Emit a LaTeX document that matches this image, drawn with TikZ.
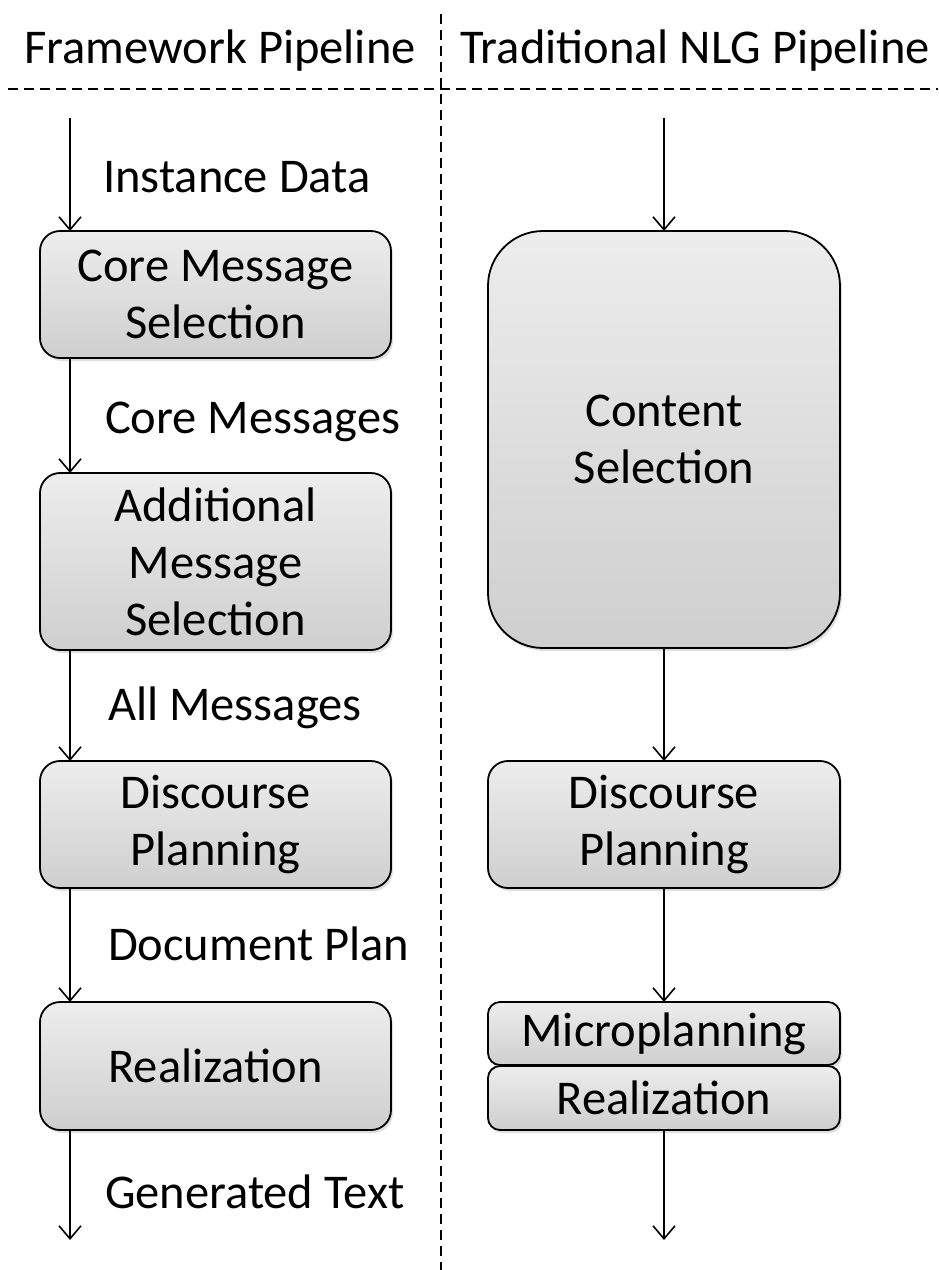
\documentclass[tikz,border=0pt]{standalone}
\usepackage{fontspec}
\setmainfont{Carlito}
\usetikzlibrary{arrows.meta,shadows}
\begin{document}
\begin{tikzpicture}[x=1pt,y=-1pt,
  every node/.style={font=\fontsize{48.5}{57}\selectfont, inner sep=0pt, outer sep=0pt},
  stagebox/.style={draw=black, line width=1.8pt, rounded corners=20pt,
    top color=gray!14, bottom color=gray!38, align=center,
    drop shadow={opacity=0.25, shadow xshift=2pt, shadow yshift=-3pt}},
  arr/.style={line width=1.6pt, -{Straight Barb[length=13pt,width=22pt,line width=1.6pt]}},
  sep/.style={line width=1.4pt, dash pattern=on 10pt off 6pt},
  lbl/.style={anchor=base west}]
\useasboundingbox (0,0) rectangle (938,1270);
% separators
\coordinate (vt) at (441,14);
\coordinate (vb) at (441,1270);
\coordinate (hl) at (8,89);
\coordinate (hr) at (938,89);
\draw[sep] (vt) -- (vb);
\draw[sep] (hl) -- (hr);
% headers
\node[anchor=base] (h1) at (220,63) {Framework Pipeline};
\node[anchor=base] (h2) at (695,63) {Traditional NLG Pipeline};
% left boxes
\node[stagebox, minimum width=351pt, minimum height=127pt] (b1) at (215.5,294.5) {Core Message\\Selection};
\node[stagebox, minimum width=351pt, minimum height=177pt] (b2) at (215.5,561.5) {Additional\\Message\\Selection};
\node[stagebox, minimum width=351pt, minimum height=127pt] (b3) at (215.5,824.5) {Discourse\\Planning};
\node[stagebox, minimum width=351pt, minimum height=128pt] (b4) at (215.5,1066) {Realization};
% right boxes
\node[stagebox, rounded corners=55pt, minimum width=352pt, minimum height=417pt] (r1) at (664,439.5) {Content\\Selection};
\node[stagebox, minimum width=352pt, minimum height=127pt] (r2) at (664,824.5) {Discourse\\Planning};
\node[stagebox, rounded corners=12pt, minimum width=352pt, minimum height=63pt] (r3) at (664,1033.5) {Microplanning};
\node[stagebox, rounded corners=12pt, minimum width=352pt, minimum height=64pt] (r4) at (664,1098) {Realization};
% left arrows
\coordinate (l0) at (70,118);
\coordinate (lend) at (70,1240);
\draw[arr] (l0) -- (l0 |- b1.north);
\draw[arr] (l0 |- b1.south) -- (l0 |- b2.north);
\draw[arr] (l0 |- b2.south) -- (l0 |- b3.north);
\draw[arr] (l0 |- b3.south) -- (l0 |- b4.north);
\draw[arr] (l0 |- b4.south) -- (lend);
% right arrows
\coordinate (q0) at (664,118);
\coordinate (qend) at (664,1240);
\draw[arr] (q0) -- (r1.north);
\draw[arr] (r1.south) -- (r2.north);
\draw[arr] (r2.south) -- (r3.north);
\draw[arr] (r4.south) -- (qend);
% labels
\node[lbl] (t1) at (103,192) {Instance Data};
\node[lbl] (t2) at (105,433) {Core Messages};
\node[lbl] (t3) at (108,720) {All Messages};
\node[lbl] (t4) at (108,960) {Document Plan};
\node[lbl] (t5) at (105,1208) {Generated Text};
\end{tikzpicture}
\end{document}
